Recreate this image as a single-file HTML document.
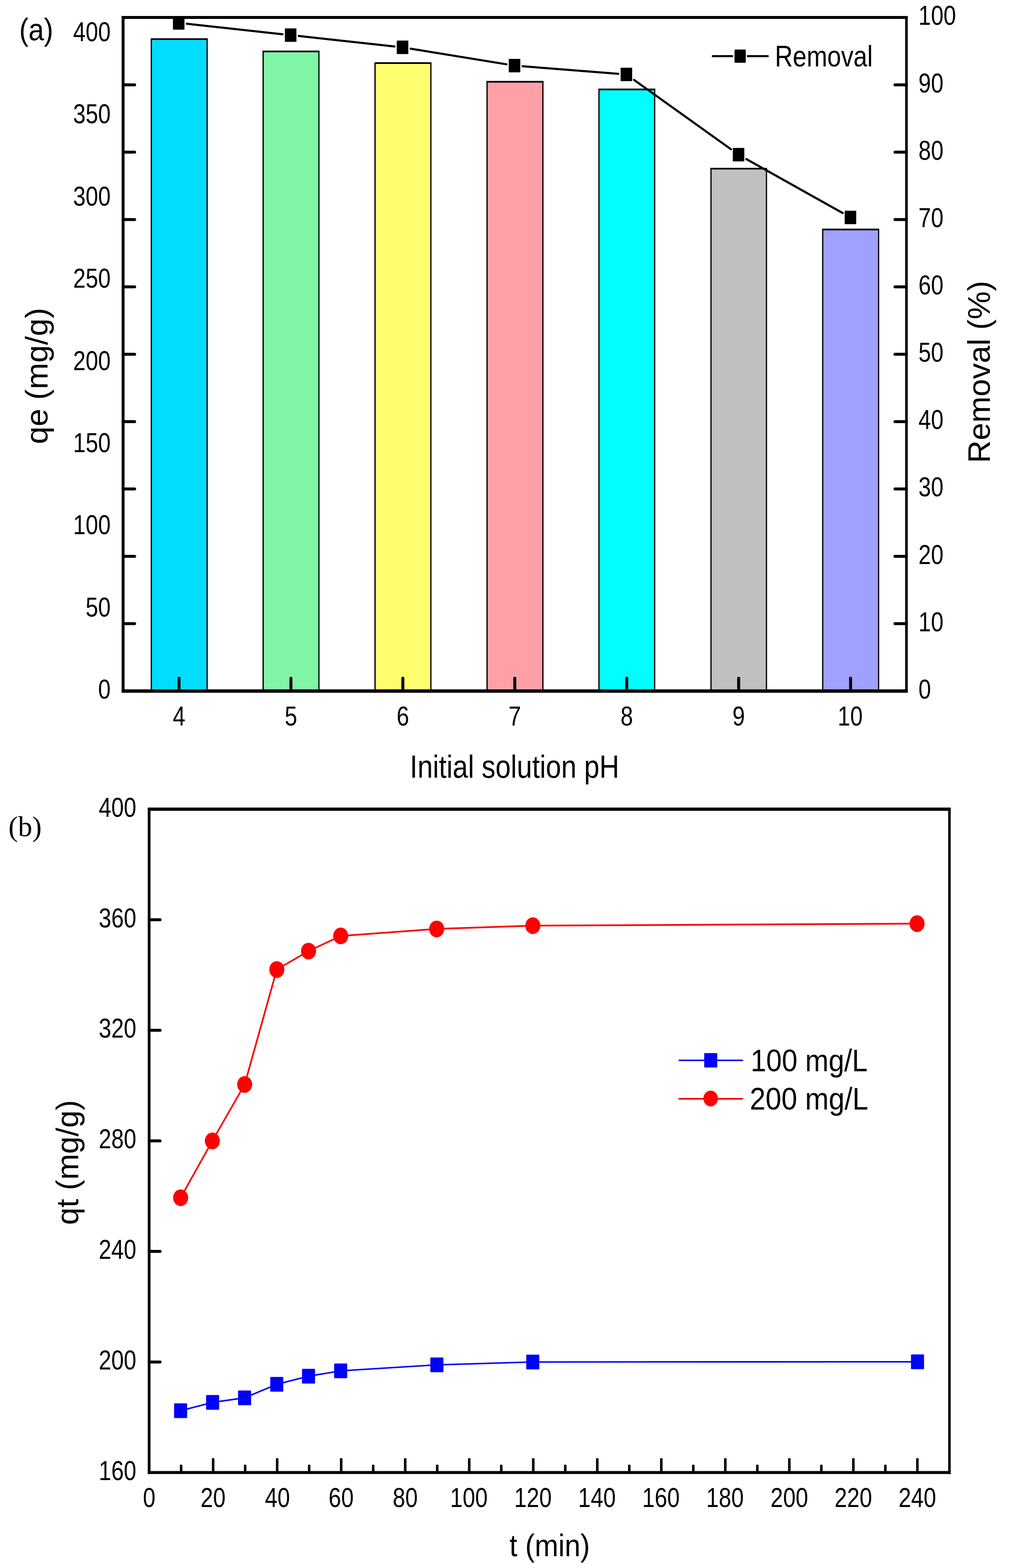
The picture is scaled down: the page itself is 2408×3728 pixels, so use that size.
<!DOCTYPE html>
<html><head><meta charset="utf-8"><title>Figure</title>
<style>html,body{margin:0;padding:0;background:#fff;}svg{display:block;}</style>
</head><body>
<svg width="2408" height="3728" viewBox="0 0 2408 3728">
<rect x="0" y="0" width="2408" height="3728" fill="#fff"/>
<rect x="358.2" y="91" width="135.6" height="1552" fill="#000"/>
<rect x="361.2" y="95" width="129.6" height="1548" fill="#00DDFF"/>
<rect x="624" y="120.3" width="135.6" height="1522.7" fill="#000"/>
<rect x="627" y="124.3" width="129.6" height="1518.7" fill="#80F5A5"/>
<rect x="890" y="148" width="135.7" height="1495" fill="#000"/>
<rect x="893" y="152" width="129.7" height="1491" fill="#FFFF6E"/>
<rect x="1156.3" y="192.4" width="135.7" height="1450.6" fill="#000"/>
<rect x="1159.3" y="196.4" width="129.7" height="1446.6" fill="#FFA0A8"/>
<rect x="1422.3" y="210.6" width="135.4" height="1432.4" fill="#000"/>
<rect x="1425.3" y="214.6" width="129.4" height="1428.4" fill="#00FFFF"/>
<rect x="1688.6" y="399" width="134.8" height="1244" fill="#000"/>
<rect x="1691.6" y="403" width="128.8" height="1240" fill="#C0C0C0"/>
<rect x="1954.2" y="543.6" width="135.8" height="1099.4" fill="#000"/>
<rect x="1957.2" y="547.6" width="129.8" height="1095.4" fill="#A0A0FF"/>
<line x1="425.5" y1="1643" x2="425.5" y2="1612.4" stroke="#000" stroke-width="7" stroke-linecap="round"/>
<line x1="691.57" y1="1643" x2="691.57" y2="1612.4" stroke="#000" stroke-width="7" stroke-linecap="round"/>
<line x1="957.64" y1="1643" x2="957.64" y2="1612.4" stroke="#000" stroke-width="7" stroke-linecap="round"/>
<line x1="1223.71" y1="1643" x2="1223.71" y2="1612.4" stroke="#000" stroke-width="7" stroke-linecap="round"/>
<line x1="1489.78" y1="1643" x2="1489.78" y2="1612.4" stroke="#000" stroke-width="7" stroke-linecap="round"/>
<line x1="1755.85" y1="1643" x2="1755.85" y2="1612.4" stroke="#000" stroke-width="7" stroke-linecap="round"/>
<line x1="2021.92" y1="1643" x2="2021.92" y2="1612.4" stroke="#000" stroke-width="7" stroke-linecap="round"/>
<line x1="292.6" y1="201.65" x2="320" y2="201.65" stroke="#000" stroke-width="7" stroke-linecap="round"/>
<line x1="2154.7" y1="201.65" x2="2127.5" y2="201.65" stroke="#000" stroke-width="7" stroke-linecap="round"/>
<line x1="292.6" y1="361.8" x2="320" y2="361.8" stroke="#000" stroke-width="7" stroke-linecap="round"/>
<line x1="2154.7" y1="361.8" x2="2127.5" y2="361.8" stroke="#000" stroke-width="7" stroke-linecap="round"/>
<line x1="292.6" y1="521.95" x2="320" y2="521.95" stroke="#000" stroke-width="7" stroke-linecap="round"/>
<line x1="2154.7" y1="521.95" x2="2127.5" y2="521.95" stroke="#000" stroke-width="7" stroke-linecap="round"/>
<line x1="292.6" y1="682.1" x2="320" y2="682.1" stroke="#000" stroke-width="7" stroke-linecap="round"/>
<line x1="2154.7" y1="682.1" x2="2127.5" y2="682.1" stroke="#000" stroke-width="7" stroke-linecap="round"/>
<line x1="292.6" y1="842.25" x2="320" y2="842.25" stroke="#000" stroke-width="7" stroke-linecap="round"/>
<line x1="2154.7" y1="842.25" x2="2127.5" y2="842.25" stroke="#000" stroke-width="7" stroke-linecap="round"/>
<line x1="292.6" y1="1002.4" x2="320" y2="1002.4" stroke="#000" stroke-width="7" stroke-linecap="round"/>
<line x1="2154.7" y1="1002.4" x2="2127.5" y2="1002.4" stroke="#000" stroke-width="7" stroke-linecap="round"/>
<line x1="292.6" y1="1162.55" x2="320" y2="1162.55" stroke="#000" stroke-width="7" stroke-linecap="round"/>
<line x1="2154.7" y1="1162.55" x2="2127.5" y2="1162.55" stroke="#000" stroke-width="7" stroke-linecap="round"/>
<line x1="292.6" y1="1322.7" x2="320" y2="1322.7" stroke="#000" stroke-width="7" stroke-linecap="round"/>
<line x1="2154.7" y1="1322.7" x2="2127.5" y2="1322.7" stroke="#000" stroke-width="7" stroke-linecap="round"/>
<line x1="292.6" y1="1482.85" x2="320" y2="1482.85" stroke="#000" stroke-width="7" stroke-linecap="round"/>
<line x1="2154.7" y1="1482.85" x2="2127.5" y2="1482.85" stroke="#000" stroke-width="7" stroke-linecap="round"/>
<line x1="443.97" y1="56.59" x2="671.73" y2="81.41" stroke="#000" stroke-width="5" stroke-linecap="round"/>
<line x1="710.07" y1="85.6" x2="937.73" y2="110.5" stroke="#000" stroke-width="5" stroke-linecap="round"/>
<line x1="976.03" y1="115.72" x2="1203.97" y2="152.88" stroke="#000" stroke-width="5" stroke-linecap="round"/>
<line x1="1242.28" y1="157.51" x2="1469.82" y2="175.39" stroke="#000" stroke-width="5" stroke-linecap="round"/>
<line x1="1507.17" y1="189.92" x2="1737.43" y2="354.83" stroke="#000" stroke-width="5" stroke-linecap="round"/>
<line x1="1774.1" y1="378.22" x2="2003.1" y2="506.53" stroke="#000" stroke-width="5" stroke-linecap="round"/>
<rect x="411.1" y="38.5" width="27.4" height="32.0" rx="1" fill="#000"/>
<rect x="677.2" y="67.5" width="27.4" height="32.0" rx="1" fill="#000"/>
<rect x="943.2" y="96.6" width="27.4" height="32.0" rx="1" fill="#000"/>
<rect x="1209.4" y="140" width="27.4" height="32.0" rx="1" fill="#000"/>
<rect x="1475.3" y="160.9" width="27.4" height="32.0" rx="1" fill="#000"/>
<rect x="1741.9" y="351.85" width="27.4" height="32.0" rx="1" fill="#000"/>
<rect x="2007.9" y="500.9" width="27.4" height="32.0" rx="1" fill="#000"/>
<line x1="289.1" y1="41.5" x2="2157.8" y2="41.5" stroke="#000" stroke-width="7"/>
<line x1="289.1" y1="1643" x2="2157.8" y2="1643" stroke="#000" stroke-width="8"/>
<line x1="292.6" y1="38" x2="292.6" y2="1647" stroke="#000" stroke-width="6.8"/>
<line x1="2154.7" y1="38" x2="2154.7" y2="1647" stroke="#000" stroke-width="6.2"/>
<line x1="1694.5" y1="133.6" x2="1740.5" y2="133.6" stroke="#000" stroke-width="5" stroke-linecap="round"/>
<line x1="1777.6" y1="133.6" x2="1825" y2="133.6" stroke="#000" stroke-width="5" stroke-linecap="round"/>
<rect x="1746" y="117.8" width="26.8" height="31.4" rx="2" fill="#000"/>
<text transform="translate(1842.06,158) scale(0.83,1)" text-anchor="start" style="font-family:'Liberation Sans',Arial,sans-serif;font-size:71px" fill="#000">Removal</text>
<text transform="translate(263.1,98.09) scale(0.83,1)" text-anchor="end" style="font-family:'Liberation Sans',Arial,sans-serif;font-size:64.5px" fill="#000">400</text>
<text transform="translate(263.1,293.49) scale(0.83,1)" text-anchor="end" style="font-family:'Liberation Sans',Arial,sans-serif;font-size:64.5px" fill="#000">350</text>
<text transform="translate(263.1,488.89) scale(0.83,1)" text-anchor="end" style="font-family:'Liberation Sans',Arial,sans-serif;font-size:64.5px" fill="#000">300</text>
<text transform="translate(263.1,684.29) scale(0.83,1)" text-anchor="end" style="font-family:'Liberation Sans',Arial,sans-serif;font-size:64.5px" fill="#000">250</text>
<text transform="translate(263.1,879.69) scale(0.83,1)" text-anchor="end" style="font-family:'Liberation Sans',Arial,sans-serif;font-size:64.5px" fill="#000">200</text>
<text transform="translate(263.1,1075.09) scale(0.83,1)" text-anchor="end" style="font-family:'Liberation Sans',Arial,sans-serif;font-size:64.5px" fill="#000">150</text>
<text transform="translate(263.1,1270.49) scale(0.83,1)" text-anchor="end" style="font-family:'Liberation Sans',Arial,sans-serif;font-size:64.5px" fill="#000">100</text>
<text transform="translate(263.09,1465.89) scale(0.83,1)" text-anchor="end" style="font-family:'Liberation Sans',Arial,sans-serif;font-size:64.5px" fill="#000">50</text>
<text transform="translate(263.09,1661.29) scale(0.83,1)" text-anchor="end" style="font-family:'Liberation Sans',Arial,sans-serif;font-size:64.5px" fill="#000">0</text>
<text transform="translate(2183.2,59.39) scale(0.83,1)" text-anchor="start" style="font-family:'Liberation Sans',Arial,sans-serif;font-size:64.5px" fill="#000">100</text>
<text transform="translate(2183.2,219.54) scale(0.83,1)" text-anchor="start" style="font-family:'Liberation Sans',Arial,sans-serif;font-size:64.5px" fill="#000">90</text>
<text transform="translate(2183.2,379.69) scale(0.83,1)" text-anchor="start" style="font-family:'Liberation Sans',Arial,sans-serif;font-size:64.5px" fill="#000">80</text>
<text transform="translate(2183.2,539.84) scale(0.83,1)" text-anchor="start" style="font-family:'Liberation Sans',Arial,sans-serif;font-size:64.5px" fill="#000">70</text>
<text transform="translate(2183.2,699.99) scale(0.83,1)" text-anchor="start" style="font-family:'Liberation Sans',Arial,sans-serif;font-size:64.5px" fill="#000">60</text>
<text transform="translate(2183.2,860.14) scale(0.83,1)" text-anchor="start" style="font-family:'Liberation Sans',Arial,sans-serif;font-size:64.5px" fill="#000">50</text>
<text transform="translate(2183.2,1020.29) scale(0.83,1)" text-anchor="start" style="font-family:'Liberation Sans',Arial,sans-serif;font-size:64.5px" fill="#000">40</text>
<text transform="translate(2183.2,1180.44) scale(0.83,1)" text-anchor="start" style="font-family:'Liberation Sans',Arial,sans-serif;font-size:64.5px" fill="#000">30</text>
<text transform="translate(2183.2,1340.59) scale(0.83,1)" text-anchor="start" style="font-family:'Liberation Sans',Arial,sans-serif;font-size:64.5px" fill="#000">20</text>
<text transform="translate(2183.2,1500.74) scale(0.83,1)" text-anchor="start" style="font-family:'Liberation Sans',Arial,sans-serif;font-size:64.5px" fill="#000">10</text>
<text transform="translate(2183.2,1660.89) scale(0.83,1)" text-anchor="start" style="font-family:'Liberation Sans',Arial,sans-serif;font-size:64.5px" fill="#000">0</text>
<text transform="translate(410.85,1725) scale(0.83,1)" text-anchor="start" style="font-family:'Liberation Sans',Arial,sans-serif;font-size:64.5px" fill="#000">4</text>
<text transform="translate(676.81,1725) scale(0.83,1)" text-anchor="start" style="font-family:'Liberation Sans',Arial,sans-serif;font-size:64.5px" fill="#000">5</text>
<text transform="translate(942.64,1725) scale(0.83,1)" text-anchor="start" style="font-family:'Liberation Sans',Arial,sans-serif;font-size:64.5px" fill="#000">6</text>
<text transform="translate(1208.87,1725) scale(0.83,1)" text-anchor="start" style="font-family:'Liberation Sans',Arial,sans-serif;font-size:64.5px" fill="#000">7</text>
<text transform="translate(1474.97,1725) scale(0.83,1)" text-anchor="start" style="font-family:'Liberation Sans',Arial,sans-serif;font-size:64.5px" fill="#000">8</text>
<text transform="translate(1741.04,1725) scale(0.83,1)" text-anchor="start" style="font-family:'Liberation Sans',Arial,sans-serif;font-size:64.5px" fill="#000">9</text>
<text transform="translate(1991.31,1725) scale(0.83,1)" text-anchor="start" style="font-family:'Liberation Sans',Arial,sans-serif;font-size:64.5px" fill="#000">10</text>
<text transform="translate(45.82,95.8) scale(0.88,1)" text-anchor="start" style="font-family:'Liberation Sans',Arial,sans-serif;font-size:75px" fill="#000">(a)</text>
<text transform="translate(974.36,1848.7) scale(0.86,1)" text-anchor="start" style="font-family:'Liberation Sans',Arial,sans-serif;font-size:76px" fill="#000">Initial solution pH</text>
<text transform="translate(112.5,1055.97) rotate(-90) scale(1.01,1)" style="font-family:'Liberation Sans',Arial,sans-serif;font-size:75px">qe (mg/g)</text>
<text transform="translate(2353.3,1100.98) rotate(-90) scale(1,1)" style="font-family:'Liberation Sans',Arial,sans-serif;font-size:75px">Removal (%)</text>
<line x1="430.59" y1="3501" x2="430.59" y2="3485" stroke="#000" stroke-width="6" stroke-linecap="round"/>
<line x1="506.68" y1="3501" x2="506.68" y2="3469.5" stroke="#000" stroke-width="6" stroke-linecap="round"/>
<line x1="582.78" y1="3501" x2="582.78" y2="3485" stroke="#000" stroke-width="6" stroke-linecap="round"/>
<line x1="658.87" y1="3501" x2="658.87" y2="3469.5" stroke="#000" stroke-width="6" stroke-linecap="round"/>
<line x1="734.96" y1="3501" x2="734.96" y2="3485" stroke="#000" stroke-width="6" stroke-linecap="round"/>
<line x1="811.05" y1="3501" x2="811.05" y2="3469.5" stroke="#000" stroke-width="6" stroke-linecap="round"/>
<line x1="887.14" y1="3501" x2="887.14" y2="3485" stroke="#000" stroke-width="6" stroke-linecap="round"/>
<line x1="963.24" y1="3501" x2="963.24" y2="3469.5" stroke="#000" stroke-width="6" stroke-linecap="round"/>
<line x1="1039.33" y1="3501" x2="1039.33" y2="3485" stroke="#000" stroke-width="6" stroke-linecap="round"/>
<line x1="1115.42" y1="3501" x2="1115.42" y2="3469.5" stroke="#000" stroke-width="6" stroke-linecap="round"/>
<line x1="1191.51" y1="3501" x2="1191.51" y2="3485" stroke="#000" stroke-width="6" stroke-linecap="round"/>
<line x1="1267.6" y1="3501" x2="1267.6" y2="3469.5" stroke="#000" stroke-width="6" stroke-linecap="round"/>
<line x1="1343.7" y1="3501" x2="1343.7" y2="3485" stroke="#000" stroke-width="6" stroke-linecap="round"/>
<line x1="1419.79" y1="3501" x2="1419.79" y2="3469.5" stroke="#000" stroke-width="6" stroke-linecap="round"/>
<line x1="1495.88" y1="3501" x2="1495.88" y2="3485" stroke="#000" stroke-width="6" stroke-linecap="round"/>
<line x1="1571.97" y1="3501" x2="1571.97" y2="3469.5" stroke="#000" stroke-width="6" stroke-linecap="round"/>
<line x1="1648.06" y1="3501" x2="1648.06" y2="3485" stroke="#000" stroke-width="6" stroke-linecap="round"/>
<line x1="1724.16" y1="3501" x2="1724.16" y2="3469.5" stroke="#000" stroke-width="6" stroke-linecap="round"/>
<line x1="1800.25" y1="3501" x2="1800.25" y2="3485" stroke="#000" stroke-width="6" stroke-linecap="round"/>
<line x1="1876.34" y1="3501" x2="1876.34" y2="3469.5" stroke="#000" stroke-width="6" stroke-linecap="round"/>
<line x1="1952.43" y1="3501" x2="1952.43" y2="3485" stroke="#000" stroke-width="6" stroke-linecap="round"/>
<line x1="2028.52" y1="3501" x2="2028.52" y2="3469.5" stroke="#000" stroke-width="6" stroke-linecap="round"/>
<line x1="2104.62" y1="3501" x2="2104.62" y2="3485" stroke="#000" stroke-width="6" stroke-linecap="round"/>
<line x1="2180.71" y1="3501" x2="2180.71" y2="3469.5" stroke="#000" stroke-width="6" stroke-linecap="round"/>
<line x1="354.5" y1="2186.75" x2="380.5" y2="2186.75" stroke="#000" stroke-width="7" stroke-linecap="round"/>
<line x1="354.5" y1="2449.6" x2="380.5" y2="2449.6" stroke="#000" stroke-width="7" stroke-linecap="round"/>
<line x1="354.5" y1="2712.45" x2="380.5" y2="2712.45" stroke="#000" stroke-width="7" stroke-linecap="round"/>
<line x1="354.5" y1="2975.3" x2="380.5" y2="2975.3" stroke="#000" stroke-width="7" stroke-linecap="round"/>
<line x1="354.5" y1="3238.15" x2="380.5" y2="3238.15" stroke="#000" stroke-width="7" stroke-linecap="round"/>
<polyline points="429.3,3354.1 505.4,3334.2 581.4,3323.4 657.9,3291.3 733.4,3272.1 809.8,3259.2 1038.5,3245 1266.5,3238.2 2181,3237.7" fill="none" stroke="#0000FF" stroke-width="3.6" stroke-linejoin="round"/>
<rect x="413.8" y="3336.6" width="31" height="35" rx="1.5" fill="#0000FF"/>
<rect x="489.9" y="3316.7" width="31" height="35" rx="1.5" fill="#0000FF"/>
<rect x="565.9" y="3305.9" width="31" height="35" rx="1.5" fill="#0000FF"/>
<rect x="642.4" y="3273.8" width="31" height="35" rx="1.5" fill="#0000FF"/>
<rect x="717.9" y="3254.6" width="31" height="35" rx="1.5" fill="#0000FF"/>
<rect x="794.3" y="3241.7" width="31" height="35" rx="1.5" fill="#0000FF"/>
<rect x="1023" y="3227.5" width="31" height="35" rx="1.5" fill="#0000FF"/>
<rect x="1251" y="3220.7" width="31" height="35" rx="1.5" fill="#0000FF"/>
<rect x="2165.5" y="3220.2" width="31" height="35" rx="1.5" fill="#0000FF"/>
<polyline points="429.4,2847.6 504.8,2712.6 581.6,2578.3 658,2305.1 733.4,2261.3 809.9,2225.2 1038,2208.6 1266.6,2200.8 2179.9,2196" fill="none" stroke="#FF0000" stroke-width="4" stroke-linejoin="round"/>
<ellipse cx="429.4" cy="2847.6" rx="17.9" ry="19.9" fill="#FF0000"/>
<ellipse cx="504.8" cy="2712.6" rx="17.9" ry="19.9" fill="#FF0000"/>
<ellipse cx="581.6" cy="2578.3" rx="17.9" ry="19.9" fill="#FF0000"/>
<ellipse cx="658" cy="2305.1" rx="17.9" ry="19.9" fill="#FF0000"/>
<ellipse cx="733.4" cy="2261.3" rx="17.9" ry="19.9" fill="#FF0000"/>
<ellipse cx="809.9" cy="2225.2" rx="17.9" ry="19.9" fill="#FF0000"/>
<ellipse cx="1038" cy="2208.6" rx="17.9" ry="19.9" fill="#FF0000"/>
<ellipse cx="1266.6" cy="2200.8" rx="17.9" ry="19.9" fill="#FF0000"/>
<ellipse cx="2179.9" cy="2196" rx="17.9" ry="19.9" fill="#FF0000"/>
<line x1="351.2" y1="1923.9" x2="2259.9" y2="1923.9" stroke="#000" stroke-width="7.8"/>
<line x1="351.2" y1="3501" x2="2259.9" y2="3501" stroke="#000" stroke-width="7"/>
<line x1="354.5" y1="1920" x2="354.5" y2="3504.5" stroke="#000" stroke-width="6.5"/>
<line x1="2256.9" y1="1920" x2="2256.9" y2="3504.5" stroke="#000" stroke-width="6"/>
<line x1="1614.5" y1="2521" x2="1765" y2="2521" stroke="#0000FF" stroke-width="3.6" stroke-linecap="round"/>
<rect x="1674" y="2503.8" width="31" height="34.2" rx="1.5" fill="#0000FF"/>
<line x1="1614.5" y1="2612.6" x2="1765" y2="2612.6" stroke="#FF0000" stroke-width="4" stroke-linecap="round"/>
<ellipse cx="1689.3" cy="2611.8" rx="17.3" ry="18.8" fill="#FF0000"/>
<text transform="translate(1784.21,2547) scale(0.89,1)" text-anchor="start" style="font-family:'Liberation Sans',Arial,sans-serif;font-size:75px" fill="#000">100 mg/L</text>
<text transform="translate(1782.33,2638) scale(0.9,1)" text-anchor="start" style="font-family:'Liberation Sans',Arial,sans-serif;font-size:75px" fill="#000">200 mg/L</text>
<text transform="translate(324.1,1941.74) scale(0.83,1)" text-anchor="end" style="font-family:'Liberation Sans',Arial,sans-serif;font-size:64.5px" fill="#000">400</text>
<text transform="translate(324.1,2204.61) scale(0.83,1)" text-anchor="end" style="font-family:'Liberation Sans',Arial,sans-serif;font-size:64.5px" fill="#000">360</text>
<text transform="translate(324.1,2467.48) scale(0.83,1)" text-anchor="end" style="font-family:'Liberation Sans',Arial,sans-serif;font-size:64.5px" fill="#000">320</text>
<text transform="translate(324.1,2730.35) scale(0.83,1)" text-anchor="end" style="font-family:'Liberation Sans',Arial,sans-serif;font-size:64.5px" fill="#000">280</text>
<text transform="translate(324.1,2993.22) scale(0.83,1)" text-anchor="end" style="font-family:'Liberation Sans',Arial,sans-serif;font-size:64.5px" fill="#000">240</text>
<text transform="translate(324.1,3256.09) scale(0.83,1)" text-anchor="end" style="font-family:'Liberation Sans',Arial,sans-serif;font-size:64.5px" fill="#000">200</text>
<text transform="translate(324.1,3518.96) scale(0.83,1)" text-anchor="end" style="font-family:'Liberation Sans',Arial,sans-serif;font-size:64.5px" fill="#000">160</text>
<text transform="translate(339.69,3582.5) scale(0.83,1)" text-anchor="start" style="font-family:'Liberation Sans',Arial,sans-serif;font-size:64.5px" fill="#000">0</text>
<text transform="translate(476.77,3582.5) scale(0.83,1)" text-anchor="start" style="font-family:'Liberation Sans',Arial,sans-serif;font-size:64.5px" fill="#000">20</text>
<text transform="translate(629.67,3582.5) scale(0.83,1)" text-anchor="start" style="font-family:'Liberation Sans',Arial,sans-serif;font-size:64.5px" fill="#000">40</text>
<text transform="translate(781.11,3582.5) scale(0.83,1)" text-anchor="start" style="font-family:'Liberation Sans',Arial,sans-serif;font-size:64.5px" fill="#000">60</text>
<text transform="translate(933.51,3582.5) scale(0.83,1)" text-anchor="start" style="font-family:'Liberation Sans',Arial,sans-serif;font-size:64.5px" fill="#000">80</text>
<text transform="translate(1070,3582.5) scale(0.83,1)" text-anchor="start" style="font-family:'Liberation Sans',Arial,sans-serif;font-size:64.5px" fill="#000">100</text>
<text transform="translate(1222.19,3582.5) scale(0.83,1)" text-anchor="start" style="font-family:'Liberation Sans',Arial,sans-serif;font-size:64.5px" fill="#000">120</text>
<text transform="translate(1374.37,3582.5) scale(0.83,1)" text-anchor="start" style="font-family:'Liberation Sans',Arial,sans-serif;font-size:64.5px" fill="#000">140</text>
<text transform="translate(1526.55,3582.5) scale(0.83,1)" text-anchor="start" style="font-family:'Liberation Sans',Arial,sans-serif;font-size:64.5px" fill="#000">160</text>
<text transform="translate(1678.74,3582.5) scale(0.83,1)" text-anchor="start" style="font-family:'Liberation Sans',Arial,sans-serif;font-size:64.5px" fill="#000">180</text>
<text transform="translate(1831.61,3582.5) scale(0.83,1)" text-anchor="start" style="font-family:'Liberation Sans',Arial,sans-serif;font-size:64.5px" fill="#000">200</text>
<text transform="translate(1983.8,3582.5) scale(0.83,1)" text-anchor="start" style="font-family:'Liberation Sans',Arial,sans-serif;font-size:64.5px" fill="#000">220</text>
<text transform="translate(2135.98,3582.5) scale(0.83,1)" text-anchor="start" style="font-family:'Liberation Sans',Arial,sans-serif;font-size:64.5px" fill="#000">240</text>
<text transform="translate(20.02,1987.9) scale(0.99,1)" text-anchor="start" style="font-family:'Liberation Serif','Times New Roman',serif;font-size:68.6px" fill="#000">(b)</text>
<text transform="translate(1210.99,3700.3) scale(0.9,1)" text-anchor="start" style="font-family:'Liberation Sans',Arial,sans-serif;font-size:75px" fill="#000">t (min)</text>
<text transform="translate(186,2912.32) rotate(-90) scale(0.99,1)" style="font-family:'Liberation Sans',Arial,sans-serif;font-size:75px">qt (mg/g)</text>
</svg>
</body></html>
